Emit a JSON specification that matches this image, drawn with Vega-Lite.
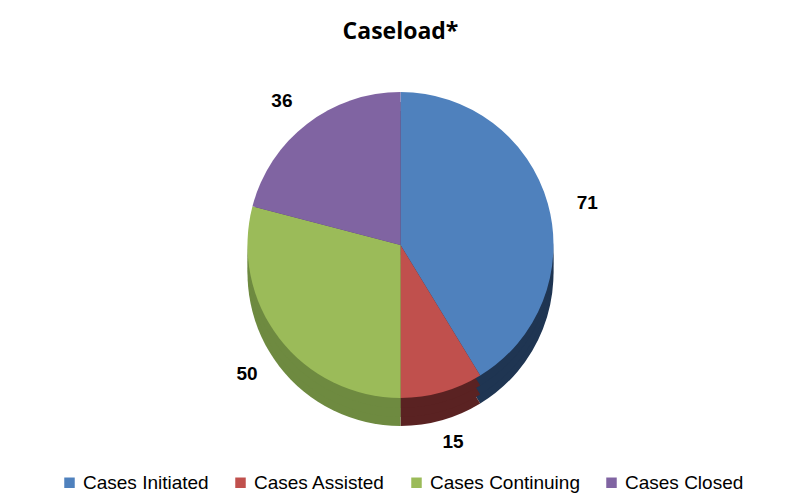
{
  "$schema": "https://vega.github.io/schema/vega-lite/v6.json",
  "width": 791,
  "height": 495,
  "autosize": {"type": "fit", "contains": "padding"},
  "padding": {"top": 21, "bottom": 2, "left": 60, "right": 50},
  "background": "white",
  "title": {"text": "Caseload*", "font": "Open Sans", "fontSize": 23, "fontWeight": "bold", "color": "#000000", "anchor": "middle", "offset": 13},
  "data": {"values": [
    {"category": "Cases Initiated", "value": 71, "order": 1},
    {"category": "Cases Assisted", "value": 15, "order": 2},
    {"category": "Cases Continuing", "value": 50, "order": 3},
    {"category": "Cases Closed", "value": 36, "order": 4}
  ]},
  "encoding": {
    "theta": {"field": "value", "type": "quantitative", "stack": true},
    "order": {"field": "order", "type": "quantitative"}
  },
  "resolve": {"scale": {"fill": "shared", "color": "independent"}, "legend": {"fill": "independent", "color": "independent"}},
  "layer": [
    {
      "mark": {"type": "arc", "outerRadius": 153, "yOffset": 28},
      "encoding": {
        "fill": {"field": "category", "type": "nominal", "legend": null,
          "scale": {"domain": ["Cases Initiated", "Cases Assisted", "Cases Continuing", "Cases Closed"], "range": ["#1F3552", "#5A2222", "#6E8A40", "#4E3D66"]}}
      }
    },
    {
      "mark": {"type": "arc", "outerRadius": 153, "yOffset": 19},
      "encoding": {
        "fill": {"field": "category", "type": "nominal", "legend": null,
          "scale": {"domain": ["Cases Initiated", "Cases Assisted", "Cases Continuing", "Cases Closed"], "range": ["#1F3552", "#5A2222", "#6E8A40", "#4E3D66"]}}
      }
    },
    {
      "mark": {"type": "arc", "outerRadius": 153, "yOffset": 10},
      "encoding": {
        "fill": {"field": "category", "type": "nominal", "legend": null,
          "scale": {"domain": ["Cases Initiated", "Cases Assisted", "Cases Continuing", "Cases Closed"], "range": ["#1F3552", "#5A2222", "#6E8A40", "#4E3D66"]}}
      }
    },
    {
      "mark": {"type": "arc", "outerRadius": 153},
      "encoding": {
        "color": {
          "field": "category", "type": "nominal",
          "scale": {"domain": ["Cases Initiated", "Cases Assisted", "Cases Continuing", "Cases Closed"], "range": ["#4F81BD", "#C0504D", "#9BBB59", "#8064A2"]},
          "legend": {"orient": "bottom", "direction": "horizontal", "title": null, "symbolType": "square", "symbolSize": 110, "symbolStrokeWidth": 0, "labelFont": "Liberation Sans", "labelFontSize": 19, "labelColor": "#000000", "columnPadding": 22, "symbolOffset": 0, "offset": 40}
        }
      }
    },
    {
      "mark": {"type": "text", "radius": 194, "yOffset": 10, "font": "Liberation Sans", "fontSize": 19, "fontWeight": "bold", "color": "#000000"},
      "encoding": {
        "text": {"field": "value", "type": "quantitative"},
        "detail": {"field": "category", "type": "nominal"}
      }
    }
  ]
}
